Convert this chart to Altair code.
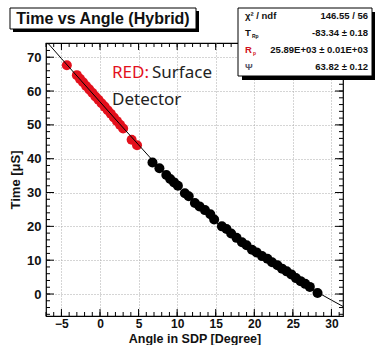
import altair as alt
import pandas as pd

# ---- data ----
red_x = [-4.3, -3.0, -2.6, -2.2, -1.8, -1.4, -1.0, -0.6, -0.2, 0.2, 0.6, 1.0, 1.4, 1.8, 2.2, 2.6, 3.0, 4.1, 4.8]
red_t = [67.6, 64.7, 63.6, 62.6, 61.5, 60.5, 59.5, 58.4, 57.4, 56.4, 55.4, 54.3, 53.3, 52.2, 51.1, 50.0, 48.9, 45.6, 44.0]

black_x = [6.8, 7.7, 8.6, 9.1, 9.6, 10.1, 11.0, 11.5, 12.3, 12.9, 13.6, 14.3, 14.8, 15.8, 16.4, 17.0, 17.7, 18.4,
           19.0, 19.7, 20.3, 21.0, 21.7, 22.3, 23.0, 23.6, 24.2, 24.8, 25.4, 26.0, 26.6, 27.2, 28.2]
black_t = [38.9, 37.2, 35.2, 34.0, 33.0, 32.0, 29.8, 28.9, 26.9, 25.9, 24.8, 23.6, 22.0, 20.0, 19.2, 17.9, 16.6, 15.3,
           14.4, 13.1, 12.3, 11.2, 10.4, 9.4, 8.5, 7.5, 6.7, 5.8, 4.7, 3.8, 3.0, 2.1, 0.3]

fit_x = [-7.5, -5, -2.5, 0, 2.5, 5, 7.5, 10, 12.5, 15, 17.5, 20, 22.5, 25, 27.5, 30, 32]
fit_t = [76.1, 69.6, 63.2, 56.8, 50.4, 44.1, 37.8, 31.8, 26.3, 21.3, 16.7, 12.6, 8.8, 5.2, 1.4, -1.8, -4.3]

x_major = [-5, 0, 5, 10, 15, 20, 25, 30]
x_minor = list(range(-7, 32))
y_major = [0, 10, 20, 30, 40, 50, 60, 70]
y_minor = list(range(-6, 75, 2))

stat_names = ["χ² / ndf", "T", "R", "Ψ"]
stat_subs = ["", "Rp", "p", ""]
stat_values = ["146.55 / 56", "-83.34 ± 0.18", "25.89E+03 ± 0.01E+03", "63.82 ± 0.12"]

W, H = 297, 273
XS = alt.Scale(domain=[-7.0, 31.5], nice=False, zero=False)
YS = alt.Scale(domain=[-6.5, 74.2], nice=False, zero=False)
FONT = "Liberation Sans"

XA = alt.Axis(
    values=x_major, title="Angle in SDP [Degree]", ticks=False, domain=False,
    labelFont=FONT, labelFontWeight="bold", labelFontSize=12, labelColor="#111",
    labelPadding=2, labelOverlap=False, titleFont=FONT, titleFontWeight="bold",
    titleFontSize=12.5, titleColor="#111", titleBaseline="bottom", titleY=29,
    grid=True, gridColor="#aaaaaa", gridDash=[1, 2], labelFlush=False)
YA = alt.Axis(
    values=y_major, title="Time [μS]", ticks=False, domain=False,
    labelFont=FONT, labelFontWeight="bold", labelFontSize=13, labelColor="#111",
    labelPadding=5, labelOverlap=False, titleFont=FONT, titleFontWeight="bold",
    titleFontSize=13, titleColor="#111", titlePadding=4, grid=True,
    gridColor="#aaaaaa", gridDash=[1, 2], labelFlush=False)

pts = pd.DataFrame({"x": red_x + black_x, "t": red_t + black_t,
                    "g": ["red"] * len(red_x) + ["black"] * len(black_x)})

points = alt.Chart(pts).mark_circle(size=100, opacity=1).encode(
    x=alt.X("x:Q", scale=XS, axis=XA),
    y=alt.Y("t:Q", scale=YS, axis=YA),
    color=alt.Color("g:N", scale=alt.Scale(domain=["red", "black"], range=["#e3101c", "#000000"]), legend=None),
)

fit = alt.Chart(pd.DataFrame({"x": fit_x, "t": fit_t})).mark_line(
    color="black", strokeWidth=1, clip=True).encode(
    x=alt.X("x:Q", scale=XS, axis=XA), y=alt.Y("t:Q", scale=YS, axis=YA))


def xticks(vals, L):
    d = pd.DataFrame({"x": vals})
    b = alt.Chart(d).mark_rule(color="black", strokeWidth=1).encode(
        x=alt.X("x:Q", scale=XS, axis=XA), y=alt.value(H), y2=alt.value(H - L))
    t = alt.Chart(d).mark_rule(color="black", strokeWidth=1).encode(
        x=alt.X("x:Q", scale=XS, axis=XA), y=alt.value(0), y2=alt.value(L))
    return [b, t]


def yticks(vals, L):
    d = pd.DataFrame({"t": vals})
    l = alt.Chart(d).mark_rule(color="black", strokeWidth=1).encode(
        y=alt.Y("t:Q", scale=YS, axis=YA), x=alt.value(0), x2=alt.value(L))
    r = alt.Chart(d).mark_rule(color="black", strokeWidth=1).encode(
        y=alt.Y("t:Q", scale=YS, axis=YA), x=alt.value(W), x2=alt.value(W - L))
    return [l, r]


ticks = xticks(x_major, 7) + xticks(x_minor, 4) + yticks(y_major, 8) + yticks(y_minor, 4)

one = pd.DataFrame({"a": [0]})


def box(x1, y1, x2, y2, fill, stroke=None):
    kw = dict(fill=fill)
    if stroke:
        kw.update(stroke=stroke, strokeWidth=1)
    return alt.Chart(one).mark_rect(**kw).encode(
        x=alt.value(x1), x2=alt.value(x2), y=alt.value(y1), y2=alt.value(y2))


def txt(s, x, y, size, color="#111", weight="normal", align="left", font=FONT, baseline="middle"):
    return alt.Chart(one).mark_text(text=s, fontSize=size, color=color, fontWeight=weight,
                                    align=align, baseline=baseline, font=font).encode(
        x=alt.value(x), y=alt.value(y))


# title box
title_layers = [
    box(-33, -32, 153, -11, "black"),
    box(-36, -35, 150, -14, "white", "black"),
    txt("Time vs Angle (Hybrid)", 57, -24, 16, "#111", "bold", "center"),
]

# stats box
stat_layers = [box(196, -31, 330, 37, "black"), box(192, -35, 326, 33, "white", "black")]
rows_y = [-27, -10, 7, 24]
name_colors = ["#111", "#111", "#d01020", "#556"]
for name, sub, val, yy, nc in zip(stat_names, stat_subs, stat_values, rows_y, name_colors):
    stat_layers.append(txt(name, 199, yy, 9.5, nc, "bold"))
    if sub:
        off = 7 if name == "T" else 8
        stat_layers.append(txt(sub, 199 + off, yy + 3, 5, nc, "bold"))
    stat_layers.append(txt(val, 322, yy, 9.5, "#111", "bold", "right"))

# annotation
ann = [
    txt("RED:", 66, 30, 17, "#e3101c", "normal", "left", "Noto Sans"),
    txt("Surface", 106, 30, 17, "#222", "normal", "left", "Noto Sans"),
    txt("Detector", 66, 57, 17, "#222", "normal", "left", "Noto Sans"),
]

chart = alt.layer(points, fit, *ticks, *title_layers, *stat_layers, *ann).properties(
    width=W, height=H,
    autosize=alt.AutoSizeParams(type="none"),
    padding={"left": 46, "top": 43, "right": 32, "bottom": 29},
    background="white",
).configure_view(stroke="black", strokeWidth=1.2)

chart.save("out.html", embed_options={"renderer": "svg", "actions": False})
